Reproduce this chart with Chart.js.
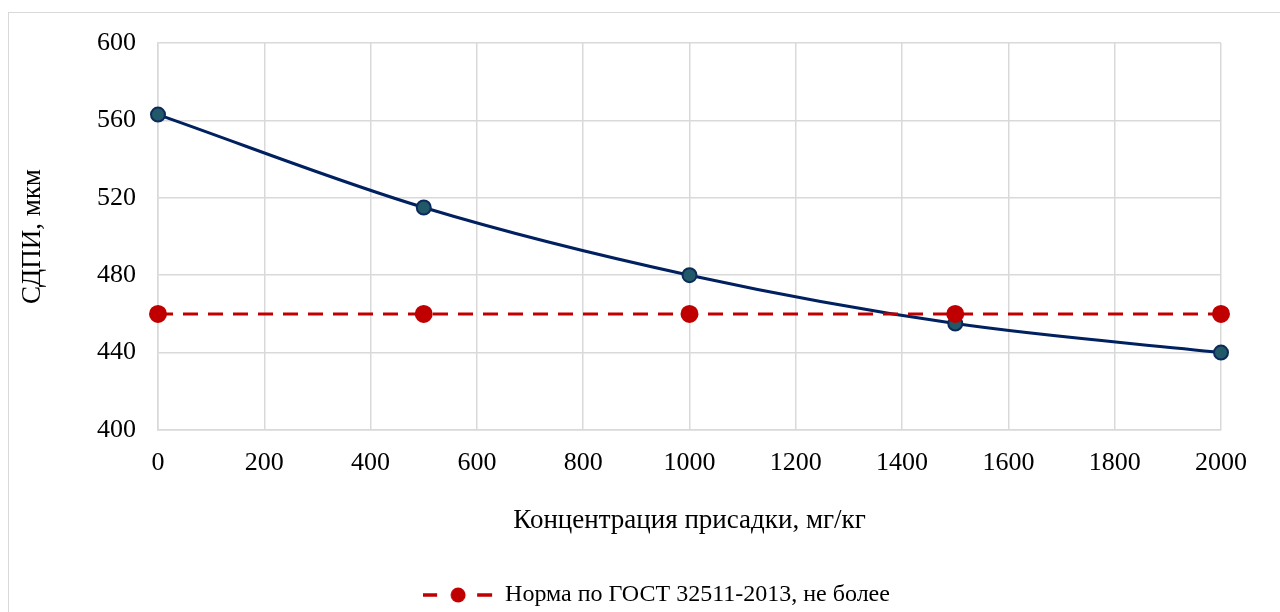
<!DOCTYPE html>
<html>
<head>
<meta charset="utf-8">
<script src="https://cdn.jsdelivr.net/npm/chart.js@4"></script>
<style>
    html, body { margin: 0; padding: 0; background: #fff; overflow: hidden; }
    #frame {
        position: absolute; left: 8px; top: 12px;
        width: 1290px; height: 620px;
        border: 1px solid #d9d9d9; box-sizing: border-box;
    }
    #wrap { position: absolute; left: 0; top: 0; width: 1280px; height: 612px; }
</style>
</head>
<body>
<div id="frame"></div>
<div id="wrap"><canvas id="chart"></canvas></div>
<script>
// СДПИ vs additive concentration
const concentrations = [0, 500, 1000, 1500, 2000];
const sdpiValues = [563, 515, 480, 455, 440];
const normValues = [460, 460, 460, 460, 460];

const xTicks = [0, 200, 400, 600, 800, 1000, 1200, 1400, 1600, 1800, 2000];
const yTicks = [400, 440, 480, 520, 560, 600];

const toPoints = (xs, ys) => xs.map((x, i) => ({ x: x, y: ys[i] }));

// legend symbol: dash - dot - dash
const makeLegendIcon = () => {
    const c = document.createElement('canvas');
    c.width = 70; c.height = 18;
    const g = c.getContext('2d');
    g.strokeStyle = '#C00000';
    g.lineWidth = 3.5;
    g.beginPath();
    g.moveTo(0, 9); g.lineTo(14, 9);
    g.moveTo(54, 9); g.lineTo(69, 9);
    g.stroke();
    g.fillStyle = '#C00000';
    g.beginPath();
    g.arc(35, 9, 7.5, 0, Math.PI * 2);
    g.fill();
    return c;
};
const legendIcon = makeLegendIcon();

// Excel centres the legend on the whole frame, not the plot
const legendShift = {
    id: 'legendShift',
    afterLayout(chart) {
        chart.legend.left += 46;
        chart.legend.right += 46;
        chart.legend.top += 5;
        chart.legend.bottom += 5;
    }
};

const font = 'Liberation Serif';

new Chart(document.getElementById('chart'), {
    type: 'line',
    data: {
        datasets: [
            {
                label: 'СДПИ',
                data: toPoints(concentrations, sdpiValues),
                borderColor: '#002060',
                borderWidth: 3,
                backgroundColor: '#215968',
                pointBackgroundColor: '#215968',
                pointBorderColor: '#0E2A5A',
                pointBorderWidth: 2,
                pointRadius: 7,
                cubicInterpolationMode: 'monotone',
                clip: false,
                order: 2
            },
            {
                label: 'Норма по ГОСТ 32511-2013, не более',
                data: toPoints(concentrations, normValues),
                borderColor: '#C00000',
                borderWidth: 3,
                borderDash: [15, 10],
                backgroundColor: '#C00000',
                pointBackgroundColor: '#C00000',
                pointBorderColor: '#C00000',
                pointRadius: 7.5,
                tension: 0,
                clip: false,
                order: 1
            }
        ]
    },
    plugins: [legendShift],
    options: {
        responsive: true,
        maintainAspectRatio: false,
        animation: false,
        layout: { padding: { left: 0, right: 59, top: 43, bottom: 0 } },
        plugins: {
            tooltip: { enabled: false },
            legend: {
                position: 'bottom',
                labels: {
                    usePointStyle: true,
                    pointStyleWidth: 70,
                    color: '#000',
                    font: { family: font, size: 24 },
                    padding: 3,
                    filter: item => item.datasetIndex === 1,
                    generateLabels: chart => {
                        const items = Chart.defaults.plugins.legend.labels.generateLabels(chart);
                        items.forEach(it => { it.pointStyle = legendIcon; });
                        return items;
                    }
                }
            }
        },
        scales: {
            x: {
                type: 'linear',
                min: 0,
                max: 2000,
                afterBuildTicks: axis => { axis.ticks = xTicks.map(v => ({ value: v })); },
                afterFit: axis => { axis.height = 145; },
                grid: { color: '#d9d9d9', lineWidth: 1.5, drawTicks: false },
                border: { color: '#d9d9d9', width: 1.5 },
                ticks: {
                    color: '#000',
                    font: { family: font, size: 26 },
                    padding: 18,
                    maxRotation: 0,
                    callback: v => String(v)
                },
                title: {
                    display: true,
                    text: 'Концентрация присадки, мг/кг',
                    color: '#000',
                    font: { family: font, size: 27 },
                    padding: { top: 0, bottom: 38 }
                }
            },
            y: {
                min: 400,
                max: 600,
                afterBuildTicks: axis => { axis.ticks = yTicks.map(v => ({ value: v })); },
                afterFit: axis => { axis.width = 158; },
                grid: { color: '#d9d9d9', lineWidth: 1.5, drawTicks: false },
                border: { color: '#d9d9d9', width: 1.5 },
                ticks: {
                    color: '#000',
                    font: { family: font, size: 26 },
                    padding: 22
                },
                title: {
                    display: true,
                    text: 'СДПИ, мкм',
                    color: '#000',
                    font: { family: font, size: 27 },
                    padding: { top: 17, bottom: 0 }
                }
            }
        }
    }
});
</script>
</body>
</html>
